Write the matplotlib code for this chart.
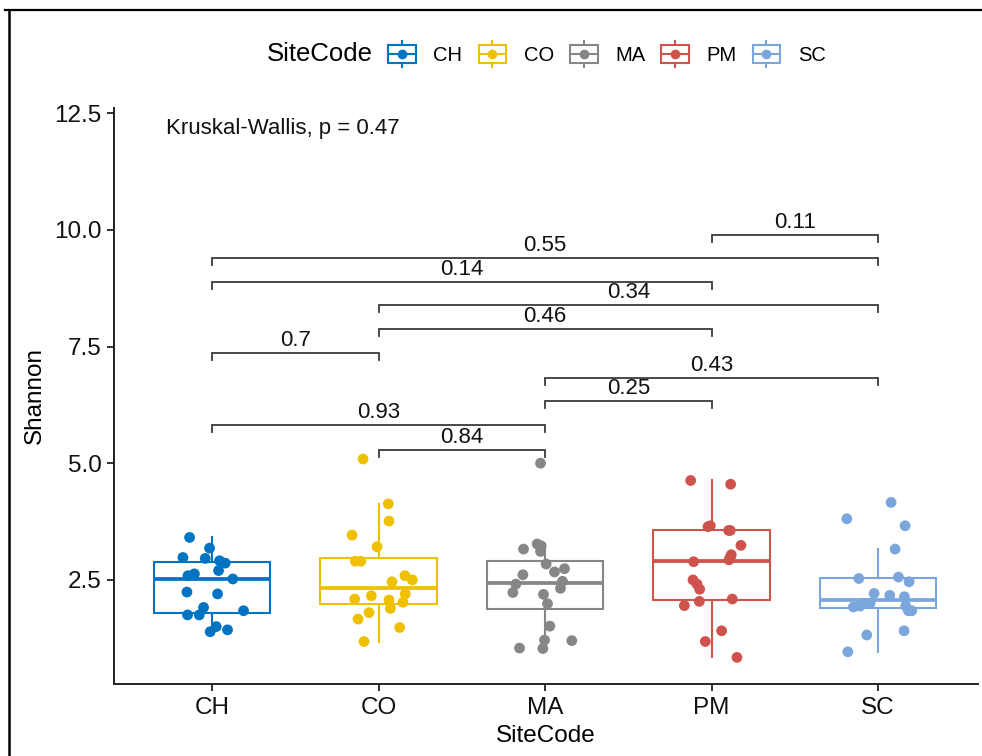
import matplotlib
matplotlib.use("Agg")
import matplotlib.pyplot as plt
import numpy as np
from matplotlib.lines import Line2D
from matplotlib.patches import Rectangle
from matplotlib.legend_handler import HandlerBase

plt.rcParams["font.family"] = ["Liberation Sans", "DejaVu Sans"]

# ---- data -------------------------------------------------------------
sites = ["CH", "CO", "MA", "PM", "SC"]
colors = ["#0073C2", "#EFC000", "#868686", "#CD534C", "#7AA6DC"]

shannon_ch = [3.41, 3.18, 2.98, 2.96, 2.91, 2.86, 2.70, 2.59, 2.63, 2.52,
              2.24, 2.20, 1.91, 1.84, 1.75, 1.75, 1.50, 1.39, 1.43]
shannon_co = [5.09, 4.13, 3.76, 3.46, 3.21, 2.90, 2.90, 2.59, 2.50, 2.46,
              2.20, 2.16, 2.09, 2.07, 2.02, 1.89, 1.80, 1.66, 1.48, 1.18]
shannon_ma = [5.00, 3.27, 3.23, 3.11, 3.16, 2.84, 2.74, 2.67, 2.61, 2.47,
              2.41, 2.32, 2.23, 2.19, 1.99, 1.51, 1.21, 1.20, 1.04, 1.03]
shannon_pm = [4.63, 4.55, 3.64, 3.66, 3.56, 3.56, 3.24, 3.04, 2.98, 2.93,
              2.89, 2.50, 2.41, 2.30, 2.04, 2.09, 1.95, 1.41, 1.18, 0.84]
shannon_sc = [4.16, 3.81, 3.66, 3.16, 2.53, 2.56, 2.46, 2.21, 2.17, 2.14,
              2.00, 2.00, 1.94, 1.92, 1.94, 1.84, 1.84, 1.41, 1.32, 0.96]

# horizontal jitter of each sample (category units)
jitter_ch = [-0.136, -0.016, -0.176, -0.042, 0.044, 0.078, 0.038, -0.146, -0.107, 0.124,
             -0.152, 0.032, -0.052, 0.188, -0.148, -0.078, 0.024, -0.012, 0.092]
jitter_co = [-0.094, 0.058, 0.062, -0.160, -0.010, -0.140, -0.108, 0.158, 0.202, 0.080,
             0.160, -0.044, -0.144, 0.062, 0.146, 0.070, -0.058, -0.124, 0.126, -0.088]
jitter_ma = [-0.028, -0.048, -0.024, -0.028, -0.130, 0.006, 0.116, 0.056, -0.134, 0.104,
             -0.176, 0.092, -0.194, -0.010, 0.014, 0.028, -0.004, 0.160, -0.154, -0.014]
jitter_pm = [-0.126, 0.114, -0.022, -0.008, 0.112, 0.102, 0.176, 0.118, 0.111, 0.104,
             -0.108, -0.112, -0.088, -0.072, -0.074, 0.124, -0.164, 0.060, -0.038, 0.152]
jitter_sc = [0.078, -0.188, 0.162, 0.102, -0.116, 0.122, 0.186, -0.024, 0.070, 0.158,
             -0.088, -0.048, -0.108, -0.148, 0.166, 0.182, 0.202, 0.156, -0.068, -0.182]

# pairwise Wilcoxon comparisons: groups, p-value label, bracket height
comp_pairs = [("CO", "MA"), ("CH", "MA"), ("MA", "PM"), ("MA", "SC"), ("CH", "CO"),
              ("CO", "PM"), ("CO", "SC"), ("CH", "PM"), ("CH", "SC"), ("PM", "SC")]
comp_labels = ["0.84", "0.93", "0.25", "0.43", "0.7", "0.46", "0.34", "0.14", "0.55", "0.11"]
comp_heights = [5.28, 5.82, 6.33, 6.83, 7.36, 7.88, 8.39, 8.88, 9.40, 9.89]

global_test = "Kruskal-Wallis, p = 0.47"
ytick_values = [2.5, 5.0, 7.5, 10.0, 12.5]
ytick_labels = ["2.5", "5.0", "7.5", "10.0", "12.5"]

values = [shannon_ch, shannon_co, shannon_ma, shannon_pm, shannon_sc]
jitters = [jitter_ch, jitter_co, jitter_ma, jitter_pm, jitter_sc]

# ---- figure -----------------------------------------------------------
W, H = 982, 756
fig = plt.figure(figsize=(W / 100, H / 100), dpi=100)
ax = fig.add_axes([114 / W, 1 - 684 / H, (978 - 114) / W, (684 - 108) / H])

positions = np.arange(1, len(sites) + 1)
for pos, vals, jit, col in zip(positions, values, jitters, colors):
    ax.boxplot(vals, positions=[pos], widths=0.7, whis=1.5, showfliers=False,
               showcaps=False, patch_artist=True,
               boxprops=dict(facecolor="white", edgecolor=col, linewidth=1.5),
               whiskerprops=dict(color=col, linewidth=1.5),
               medianprops=dict(color=col, linewidth=2.7, solid_capstyle="butt"),
               zorder=2)
    ax.scatter(pos + np.asarray(jit), vals, s=60, color=col, edgecolors="none", zorder=3)

# comparison brackets
idx = {s: i + 1 for i, s in enumerate(sites)}
tip = 0.15
for (a, b), lab, h in zip(comp_pairs, comp_labels, comp_heights):
    x1, x2 = idx[a], idx[b]
    ax.plot([x1, x1, x2, x2], [h - tip, h, h, h - tip], color="#3a3a3a",
            linewidth=1.3, solid_joinstyle="miter", zorder=4)
    ax.annotate(lab, xy=((x1 + x2) / 2, h), xytext=(0, 1.5), textcoords="offset points",
                ha="center", va="bottom", fontsize=16, color="#111111")

ax.text(0.72, 12.18, global_test, ha="left", va="center", fontsize=16, color="#111111")

ax.set_xlim(0.41, 5.6)
ax.set_ylim(0.27, 12.61)
ax.set_xticks(positions)
ax.set_xticklabels(sites)
ax.set_yticks(ytick_values)
ax.set_yticklabels(ytick_labels)
ax.tick_params(axis="both", labelsize=17.5, length=5, width=1.3, color="#222222",
               labelcolor="#111111", direction="out", pad=4)
for side in ["top", "right"]:
    ax.spines[side].set_visible(False)
for side in ["left", "bottom"]:
    ax.spines[side].set_linewidth(1.4)
    ax.spines[side].set_color("#222222")
ax.set_xlabel("SiteCode", fontsize=17.5, labelpad=5)
ax.set_ylabel("Shannon", fontsize=17.5, labelpad=6)


# ---- legend with box-and-point keys ----------------------------------
class BoxPointHandler(HandlerBase):
    def create_artists(self, legend, orig_handle, xdescent, ydescent, width, height,
                       fontsize, trans):
        col = orig_handle.get_color()
        x0, y0 = -xdescent, -ydescent
        cx, cy = x0 + width / 2, y0 + height / 2
        box_h = height * 0.68
        rect = Rectangle((x0 + 1, cy - box_h / 2), width - 2, box_h, facecolor="white",
                         edgecolor=col, linewidth=1.5, transform=trans)
        w_top = Line2D([cx, cx], [cy + box_h / 2, y0 + height], color=col, linewidth=1.5,
                       transform=trans)
        w_bot = Line2D([cx, cx], [y0, cy - box_h / 2], color=col, linewidth=1.5,
                       transform=trans)
        med = Line2D([x0 + 1, x0 + width - 1], [cy, cy], color=col, linewidth=1.5,
                     transform=trans)
        dot = Line2D([cx], [cy], marker="o", markersize=7, color=col,
                     markeredgewidth=0, linestyle="none", transform=trans)
        return [rect, w_top, w_bot, med, dot]


handles = [Line2D([], [], color=c) for c in colors]
leg = fig.legend(handles, sites, loc="center left",
                 bbox_to_anchor=(387 / W, 1 - 54 / H), ncol=5, frameon=False,
                 fontsize=14.5, handlelength=1.5, handleheight=1.6,
                 handletextpad=0.8, columnspacing=0.74, borderpad=0, borderaxespad=0,
                 handler_map={Line2D: BoxPointHandler()})
fig.text(267 / W, 1 - 54 / H, "SiteCode", ha="left", va="center", fontsize=18.5)

# frame edges along the top and left of the canvas
fig.add_artist(Line2D([5 / W, 1], [1 - 9.5 / H, 1 - 9.5 / H], color="black",
                      linewidth=1.6, transform=fig.transFigure))
fig.add_artist(Line2D([9 / W, 9 / W], [0, 1 - 9.5 / H], color="black",
                      linewidth=1.8, transform=fig.transFigure))

fig.savefig("out.png", dpi=100)
